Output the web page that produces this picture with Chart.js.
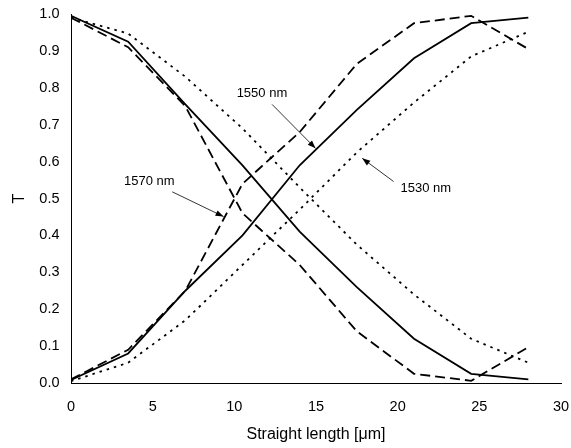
<!DOCTYPE html>
<html><head><meta charset="utf-8">
<script src="https://cdn.jsdelivr.net/npm/chart.js@4/dist/chart.umd.min.js"></script>
<style>html,body{margin:0;padding:0;background:#fff}#wrap{width:571px;height:448px}</style>
</head><body><div id="wrap"><canvas id="c" width="571" height="448"></canvas></div>
<script>
const xs = [0, 3.5, 7, 10.5, 14, 17.5, 21, 24.5, 28];
const t1550Bar   = [0.995, 0.925, 0.755, 0.59, 0.41, 0.26, 0.12, 0.025, 0.01];
const t1550Cross = [0.008, 0.08, 0.25, 0.40, 0.59, 0.74, 0.88, 0.975, 0.99];
const t1570Bar   = [0.99, 0.91, 0.75, 0.46, 0.32, 0.14, 0.025, 0.006, 0.097];
const t1570Cross = [0.01, 0.09, 0.25, 0.54, 0.68, 0.865, 0.975, 0.995, 0.905];
const t1530Bar   = [0.99, 0.947, 0.83, 0.69, 0.53, 0.375, 0.24, 0.12, 0.055];
const t1530Cross = [0.005, 0.055, 0.17, 0.32, 0.47, 0.625, 0.76, 0.885, 0.952];
const xTicks = [0, 5, 10, 15, 20, 25, 30];
const yTicks = [0, 0.1, 0.2, 0.3, 0.4, 0.5, 0.6, 0.7, 0.8, 0.9, 1.0];
const labels = ['1550 nm', '1570 nm', '1530 nm'];
const labelPos = [[11.69, 0.786], [4.79, 0.547], [21.72, 0.526]];
const arrowFrom = [[12.31, 0.755], [6.20, 0.518], [19.75, 0.546]];
const arrowTo = [[14.97, 0.636], [9.34, 0.451], [17.83, 0.609]];

const pts = a => xs.map((x, i) => ({x, y: a[i]}));
const styles = {solid: [], dash: [10, 5], dot: [2.5, 5]};
function ds(a, dash) {
  return {data: pts(a), borderColor: '#000', borderWidth: 1.8, borderDash: dash,
    pointRadius: 0, showLine: true, fill: false, tension: 0};
}
const FAM = '"Liberation Sans", Arial, sans-serif';
const annot = {
  id: 'annot',
  afterDatasetsDraw(chart) {
    const c = chart.ctx, xS = chart.scales.x, yS = chart.scales.y;
    c.save();
    c.fillStyle = '#000'; c.strokeStyle = '#000';
    c.font = '13px ' + FAM;
    c.textAlign = 'center'; c.textBaseline = 'middle';
    labels.forEach((t, i) => {
      c.fillText(t, xS.getPixelForValue(labelPos[i][0]), yS.getPixelForValue(labelPos[i][1]));
      const x1 = xS.getPixelForValue(arrowFrom[i][0]), y1 = yS.getPixelForValue(arrowFrom[i][1]);
      const x2 = xS.getPixelForValue(arrowTo[i][0]), y2 = yS.getPixelForValue(arrowTo[i][1]);
      c.lineWidth = 0.8;
      c.beginPath(); c.moveTo(x1, y1); c.lineTo(x2, y2); c.stroke();
      const ang = Math.atan2(y2 - y1, x2 - x1), L = 8, W = 3;
      c.beginPath();
      c.moveTo(x2, y2);
      c.lineTo(x2 - L * Math.cos(ang) + W * Math.sin(ang), y2 - L * Math.sin(ang) - W * Math.cos(ang));
      c.lineTo(x2 - L * Math.cos(ang) - W * Math.sin(ang), y2 - L * Math.sin(ang) + W * Math.cos(ang));
      c.closePath(); c.fill();
    });
    c.restore();
  }
};
const tickFont = {family: FAM, size: 14.5};
const titleFont = {family: FAM, size: 16};
new Chart(document.getElementById('c'), {
  type: 'scatter',
  data: {datasets: [
    ds(t1550Bar, styles.solid), ds(t1550Cross, styles.solid),
    ds(t1570Bar, styles.dash), ds(t1570Cross, styles.dash),
    ds(t1530Bar, styles.dot), ds(t1530Cross, styles.dot)
  ]},
  options: {
    responsive: false, animation: false, events: [],
    layout: {padding: {top: 14, right: 10, left: 0, bottom: 0}},
    plugins: {legend: {display: false}, tooltip: {enabled: false}},
    scales: {
      x: {type: 'linear', min: 0, max: 30,
        afterBuildTicks: s => { s.ticks = xTicks.map(v => ({value: v})); },
        afterFit: s => { s.height = 65; s.paddingLeft = 0; s.paddingRight = 0; },
        grid: {display: false, drawOnChartArea: false, drawTicks: true, tickLength: 5, color: '#000'},
        border: {display: true, color: '#000', width: 1},
        ticks: {color: '#000', font: tickFont, padding: 10, maxRotation: 0},
        title: {display: true, text: 'Straight length [μm]', color: '#000', font: titleFont, padding: {top: 4, bottom: 4}}
      },
      y: {type: 'linear', min: 0, max: 1,
        afterBuildTicks: s => { s.ticks = yTicks.map(v => ({value: v})); },
        afterFit: s => { s.width = 71; s.paddingTop = 0; s.paddingBottom = 0; },
        grid: {display: false, drawOnChartArea: false, drawTicks: true, tickLength: 5, color: '#000'},
        border: {display: true, color: '#000', width: 1},
        ticks: {color: '#000', font: tickFont, padding: 6.5, callback: v => v.toFixed(1)},
        title: {display: true, text: 'T', color: '#000', font: titleFont, padding: {top: 10, bottom: 10}}
      }
    }
  },
  plugins: [annot]
});
</script></body></html>
